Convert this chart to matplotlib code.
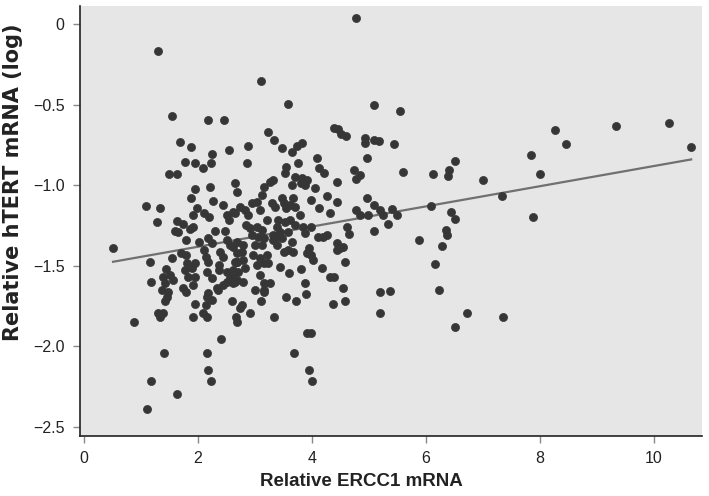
import matplotlib
matplotlib.use("Agg")
import matplotlib.pyplot as plt
import numpy as np

# ERCC1 (x) and hTERT log (y) values
ercc1 = [
 1.29,1.54,2.17,2.46,1.68,1.88,2.54,
 4.77,3.10,3.58,5.08,3.23,3.33,2.87,3.48,3.73,3.82,4.39,4.46,4.50,4.60,4.93,4.93,5.09,5.18,
 5.55,5.44,
 8.27,8.45,9.33,10.26,10.64,
 7.84,7.99,7.87,
 6.50,6.41,6.38,5.60,6.12,7.00,7.34,5.19,5.25,5.41,5.49,5.34,6.08,6.43,6.50,6.35,6.36,5.88,6.28,6.16,5.19,5.37,6.23,
 5.19,6.72,6.51,7.35,
 3.15,2.60,2.78,2.74,2.66,2.69,2.91,3.11,3.34,3.55,3.72,3.89,3.91,3.99,3.69,3.94,4.00,4.36,4.58,
 0.877,1.40,1.18,1.63,1.11,2.15,2.17,2.23,2.40,1.30,1.38,1.33,1.46,1.42,1.95,1.91,2.08,2.15,2.15,2.24,2.14,2.35,
 0.515,1.08,1.34,1.28,1.16,1.17,1.49,1.63,2.25,1.78,1.95,2.09,2.23,1.94,1.88,2.21,2.26,2.44,2.65,2.69,
 1.98,1.92,2.11,2.19,2.50,2.54,2.65,1.63,1.74,1.60,1.65,1.92,1.86,1.79,2.01,2.18,2.24,2.30,2.47,2.50,2.56,
 1.71,1.79,2.11,2.14,2.18,2.39,2.43,2.37,2.65,2.68,1.54,
 1.80,1.95,1.77,1.89,1.83,1.95,1.92,1.44,1.39,1.50,1.42,1.57,1.36,1.48,1.74,1.79,
 2.15,2.24,2.36,2.50,2.56,2.62,2.50,2.44,2.69,2.71,2.68,2.33,2.18,
 3.64,2.86,4.09,4.13,4.21,3.75,3.55,3.53,3.70,3.82,3.88,3.80,3.64,3.92,4.43,4.73,4.84,4.77,4.96,
 4.05,4.26,4.43,3.98,4.13,4.32,4.96,5.09,4.77,4.84,4.99,4.61,4.64,5.09,4.11,4.20,4.26,4.43,4.49,4.55,4.43,
 4.58,4.32,4.39,4.17,3.95,3.99,3.92,4.02,3.80,3.88,3.60,3.44,4.55,
 3.15,3.26,3.32,3.12,3.47,3.50,3.61,3.67,3.70,3.55,3.29,3.35,3.79,
 2.74,2.82,2.88,2.62,2.94,3.03,3.09,3.21,
 3.41,3.53,3.61,3.70,3.38,3.44,3.58,3.47,3.64,3.32,3.38,3.50,3.58,3.67,3.85,3.99,3.88,
 2.85,2.91,3.03,3.12,2.94,3.06,3.15,3.00,3.12,2.79,2.68,2.62,2.77,2.97,3.09,3.21,3.15,3.03,3.23,
 2.79,2.82,2.68,2.62,2.59,2.65,2.79,3.09,3.15,3.26,3.00,3.15,3.32,3.38,
]
htert = [
 -0.166,-0.573,-0.596,-0.598,-0.734,-0.763,-0.780,
 0.037,-0.352,-0.496,-0.502,-0.668,-0.722,-0.757,-0.771,-0.755,-0.736,-0.643,-0.653,-0.682,-0.695,-0.709,-0.736,-0.720,-0.724,
 -0.538,-0.742,
 -0.656,-0.746,-0.633,-0.612,-0.761,
 -0.813,-0.932,-1.197,
 -0.848,-0.906,-0.943,-0.920,-0.932,-0.966,-1.067,-1.154,-1.185,-1.150,-1.185,-1.239,-1.127,-1.168,-1.210,-1.278,-1.309,-1.340,-1.377,-1.491,-1.660,-1.655,-1.652,
 -1.790,-1.790,-1.882,-1.820,
 -1.650,-1.718,-1.743,-1.764,-1.816,-1.851,-1.790,-1.716,-1.820,-1.696,-1.718,-1.675,-1.915,-1.915,-2.039,-2.146,-2.213,-1.739,-1.718,
 -1.849,-2.039,-2.213,-2.293,-2.388,-2.039,-2.146,-2.213,-1.956,-1.790,-1.795,-1.820,-1.692,-1.716,-1.739,-1.820,-1.790,-1.816,-1.696,-1.712,-1.743,-1.650,
 -1.388,-1.129,-1.143,-1.230,-1.478,-1.598,-0.931,-0.931,-0.806,-0.854,-0.864,-0.895,-0.864,-1.025,-1.077,-1.009,-1.098,-1.123,-0.988,-1.040,
 -1.143,-1.185,-1.174,-1.195,-1.185,-1.216,-1.174,-1.222,-1.241,-1.284,-1.292,-1.257,-1.272,-1.340,-1.350,-1.330,-1.360,-1.284,-1.284,-1.340,-1.371,
 -1.423,-1.433,-1.402,-1.443,-1.474,-1.412,-1.443,-1.495,-1.474,-1.423,-1.454,
 -1.485,-1.485,-1.526,-1.516,-1.568,-1.568,-1.619,-1.520,-1.568,-1.557,-1.609,-1.588,-1.650,-1.660,-1.640,-1.660,
 -1.537,-1.578,-1.526,-1.537,-1.578,-1.609,-1.599,-1.619,-1.474,-1.537,-1.588,-1.640,-1.670,
 -0.792,-0.864,-0.833,-0.895,-0.926,-0.864,-0.885,-0.926,-0.947,-0.957,-0.999,-0.988,-0.999,-0.968,-0.978,-0.906,-0.937,-0.963,-0.833,
 -1.019,-1.065,-1.106,-1.092,-1.140,-1.174,-1.077,-1.123,-1.154,-1.185,-1.185,-1.257,-1.305,-1.284,-1.320,-1.320,-1.309,-1.360,-1.391,-1.381,-1.402,
 -1.478,-1.568,-1.568,-1.516,-1.391,-1.433,-1.423,-1.464,-1.520,-1.609,-1.547,-1.505,-1.640,
 -1.009,-0.978,-0.968,-1.061,-1.077,-1.112,-1.123,-1.081,-1.133,-1.143,-1.112,-1.133,-1.185,
 -1.133,-1.154,-1.185,-1.164,-1.112,-1.102,-1.154,-1.216,
 -1.216,-1.226,-1.216,-1.247,-1.257,-1.288,-1.288,-1.330,-1.350,-1.340,-1.371,-1.412,-1.402,-1.412,-1.257,-1.257,-1.298,
 -1.247,-1.268,-1.257,-1.278,-1.309,-1.320,-1.330,-1.371,-1.371,-1.371,-1.350,-1.381,-1.412,-1.433,-1.454,-1.433,-1.485,-1.495,-1.485,
 -1.464,-1.516,-1.474,-1.526,-1.557,-1.599,-1.599,-1.557,-1.609,-1.609,-1.650,-1.660,-1.309,-1.320,
]

# fit line endpoints as drawn
fit_x = [0.51, 10.65]
fit_y = [-1.475, -0.840]

x_ticks = [0, 2, 4, 6, 8, 10]
y_ticks = [0, -0.5, -1.0, -1.5, -2.0, -2.5]
y_tick_labels = ['0', '\u22120.5', '\u22121.0', '\u22121.5', '\u22122.0', '\u22122.5']

plt.rcParams['font.family'] = ['Liberation Sans', 'DejaVu Sans']

fig = plt.figure(figsize=(7.09, 4.96), dpi=100)
ax = fig.add_axes([80/709, 60/496, 622/709, 430/496])
ax.set_facecolor('#e6e6e6')

n = min(len(ercc1), len(htert))
ax.scatter(ercc1[:n], htert[:n], s=34, color='#363636', edgecolors='#363636', linewidths=0.5, zorder=3)
ax.plot(fit_x, fit_y, color='#707070', lw=1.6, zorder=2)

ax.set_xlim(-0.07, 10.84)
ax.set_ylim(-2.556, 0.112)
ax.set_xticks(x_ticks)
ax.set_xticklabels([str(t) for t in x_ticks])
ax.set_yticks(y_ticks)
ax.set_yticklabels(y_tick_labels)

for s in ['top', 'right']:
    ax.spines[s].set_visible(False)
for s in ['left', 'bottom']:
    ax.spines[s].set_color('#222222')
    ax.spines[s].set_linewidth(1.2)
ax.tick_params(axis='both', direction='out', length=5, width=1, color='#888888',
               labelsize=11.5, labelcolor='#222222', pad=6)

ax.set_xlabel('Relative ERCC1 mRNA', fontsize=13.5, fontweight='bold', color='#222222')
ax.set_ylabel('Relative hTERT mRNA (log)', fontsize=15, fontweight='bold', color='#222222',
              family=['DejaVu Sans'])
ax.xaxis.set_label_coords(0.453, -0.085)
ax.yaxis.set_label_coords(-0.092, 0.59)

fig.savefig('out.png', dpi=100, facecolor='white')
